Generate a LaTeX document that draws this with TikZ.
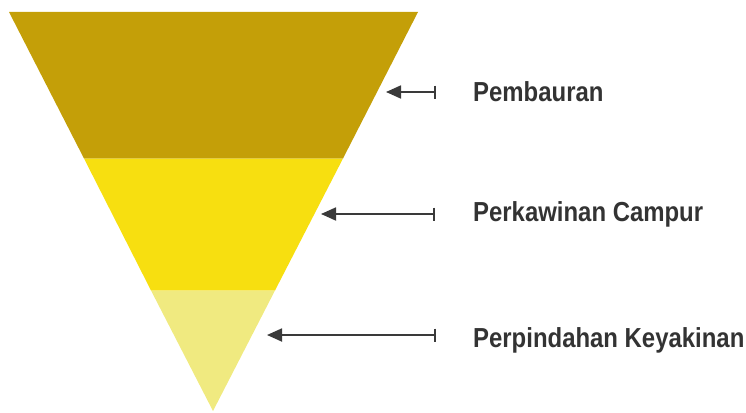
\documentclass[tikz,border=0pt]{standalone}
\usepackage{fontspec}
\setmainfont{Liberation Sans}
\usetikzlibrary{arrows.meta}
\definecolor{bandtop}{RGB}{196,159,8}
\definecolor{bandmid}{RGB}{247,223,16}
\definecolor{bandlow}{RGB}{240,234,128}
\definecolor{ink}{RGB}{58,58,58}
\definecolor{txt}{RGB}{51,51,51}
\begin{document}
\begin{tikzpicture}[x=1pt,y=-1pt,
  pointer/.style={draw=ink,line width=1.8pt,{Triangle[length=15pt,width=13pt]}-{Bar[width=13pt,line width=2pt]}},
  lbl/.style={anchor=base west,inner sep=0pt,text=txt,font=\fontsize{27.5}{32}\selectfont\bfseries,xscale=0.87}]
\useasboundingbox (0,0) rectangle (746,412);
% funnel bands
\fill[bandtop] (9,12) -- (418,12) -- (343,158.5) -- (84,158.5) -- cycle;
\fill[bandmid] (84,158.5) -- (343,158.5) -- (275,290.5) -- (151,290.5) -- cycle;
\fill[bandlow] (151,290.5) -- (275,290.5) -- (213,411) -- cycle;
% arrow ends
\coordinate (t1) at (386,92);  \coordinate (b1) at (436,92);
\coordinate (t2) at (321,214); \coordinate (b2) at (435,214);
\coordinate (t3) at (267,335); \coordinate (b3) at (436,335);
\draw[pointer] (t1) -- (b1);
\draw[pointer] (t2) -- (b2);
\draw[pointer] (t3) -- (b3);
% labels
\node[lbl] (l1) at (473,101) {Pembauran};
\node[lbl] (l2) at (473,221) {Perkawinan Campur};
\node[lbl] (l3) at (473,347) {Perpindahan Keyakinan};
\end{tikzpicture}
\end{document}
